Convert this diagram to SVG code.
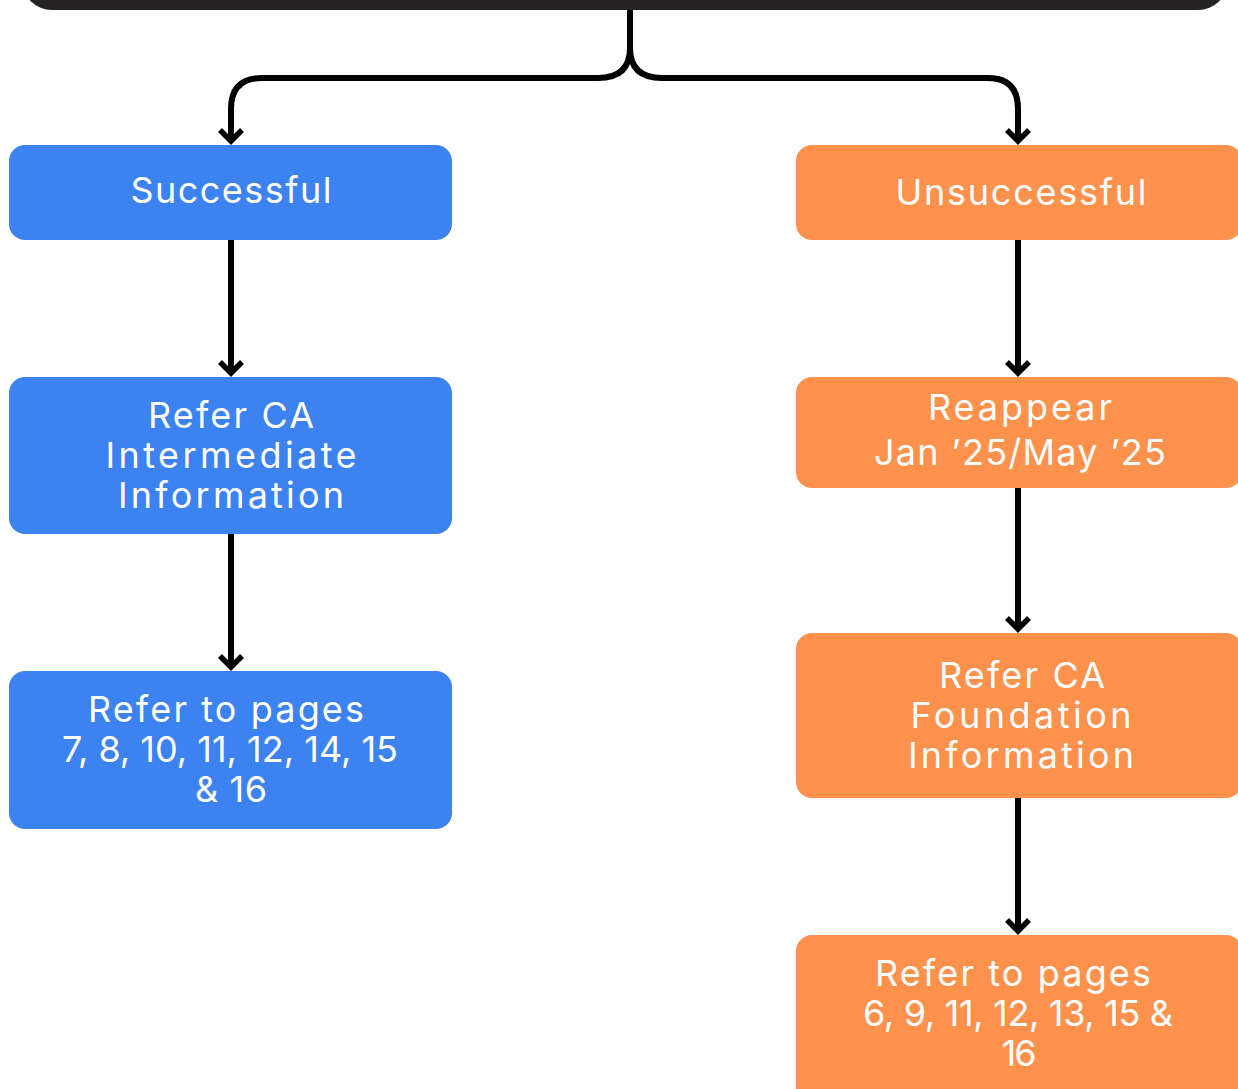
<svg xmlns="http://www.w3.org/2000/svg" width="1238" height="1089" viewBox="0 0 1238 1089">
  <defs>
    <style>
      .blue { fill: #3c82f0; }
      .orange { fill: #fe914c; }
      .lbl { font-family: Inter, "Open Sans", "Liberation Sans", sans-serif; font-size: 36px; fill: #ffffff; text-anchor: middle; }
      .conn { fill: none; stroke: #000000; stroke-width: 6; }
      .head { fill: none; stroke: #000000; stroke-width: 5.5; stroke-linejoin: miter; stroke-miterlimit: 10; }
    </style>
  </defs>
  <rect width="1238" height="1089" fill="#ffffff"/>

  <g id="top-node">
    <rect x="22" y="-50" width="1206" height="60" rx="30" fill="#262324"/>
  </g>

  <g id="connectors">
    <path class="conn" d="M630,10 V48 Q630,78 598,78 H262 Q231,78 231,109 V140"/>
    <path class="conn" d="M630,48 Q630,78 662,78 H988 Q1018,78 1018,109 V140"/>
    <path class="conn" d="M231,240 V372"/>
    <path class="conn" d="M231,534 V666"/>
    <path class="conn" d="M1018,240 V372"/>
    <path class="conn" d="M1018,488 V628"/>
    <path class="conn" d="M1018,798 V930"/>
    <path class="head" d="M220,130 L231,141 L242,130"/>
    <path class="head" d="M1007,130 L1018,141 L1029,130"/>
    <path class="head" d="M220,362 L231,373 L242,362"/>
    <path class="head" d="M220,656 L231,667 L242,656"/>
    <path class="head" d="M1007,362 L1018,373 L1029,362"/>
    <path class="head" d="M1007,618 L1018,629 L1029,618"/>
    <path class="head" d="M1007,920 L1018,931 L1029,920"/>
  </g>

  <g id="successful">
    <rect class="blue" x="9" y="145" width="443" height="95" rx="16"/>
    <text class="lbl" x="231" y="203" textLength="201" lengthAdjust="spacing">Successful</text>
  </g>
  <g id="intermediate">
    <rect class="blue" x="9" y="377" width="443" height="157" rx="16"/>
    <text class="lbl" x="231" y="428" textLength="166" lengthAdjust="spacing">Refer CA</text>
    <text class="lbl" x="231" y="468" textLength="251" lengthAdjust="spacing">Intermediate</text>
    <text class="lbl" x="231" y="508" textLength="226" lengthAdjust="spacing">Information</text>
  </g>
  <g id="pages-success">
    <rect class="blue" x="9" y="671" width="443" height="158" rx="16"/>
    <text class="lbl" x="226" y="722" textLength="276" lengthAdjust="spacing">Refer to pages</text>
    <text class="lbl" x="230" y="762" textLength="336" lengthAdjust="spacing">7, 8, 10, 11, 12, 14, 15</text>
    <text class="lbl" x="231" y="802" textLength="72" lengthAdjust="spacing">&amp; 16</text>
  </g>

  <g id="unsuccessful">
    <rect class="orange" x="796" y="145" width="446" height="95" rx="16"/>
    <text class="lbl" x="1021" y="205" textLength="251" lengthAdjust="spacing">Unsuccessful</text>
  </g>
  <g id="reappear">
    <rect class="orange" x="796" y="377" width="446" height="111" rx="16"/>
    <text class="lbl" x="1020" y="420" textLength="184" lengthAdjust="spacing">Reappear</text>
    <text class="lbl" x="1020" y="465" textLength="292" lengthAdjust="spacing">Jan ’25/May ’25</text>
  </g>
  <g id="foundation">
    <rect class="orange" x="796" y="633" width="446" height="165" rx="16"/>
    <text class="lbl" x="1022" y="688" textLength="166" lengthAdjust="spacing">Refer CA</text>
    <text class="lbl" x="1021" y="728" textLength="221" lengthAdjust="spacing">Foundation</text>
    <text class="lbl" x="1021" y="768" textLength="226" lengthAdjust="spacing">Information</text>
  </g>
  <g id="pages-unsuccess">
    <rect class="orange" x="796" y="935" width="446" height="170" rx="16"/>
    <text class="lbl" x="1013" y="986" textLength="276" lengthAdjust="spacing">Refer to pages</text>
    <text class="lbl" x="1018" y="1026" textLength="310" lengthAdjust="spacing">6, 9, 11, 12, 13, 15 &amp;</text>
    <text class="lbl" x="1019" y="1066" textLength="35" lengthAdjust="spacing">16</text>
  </g>
</svg>
